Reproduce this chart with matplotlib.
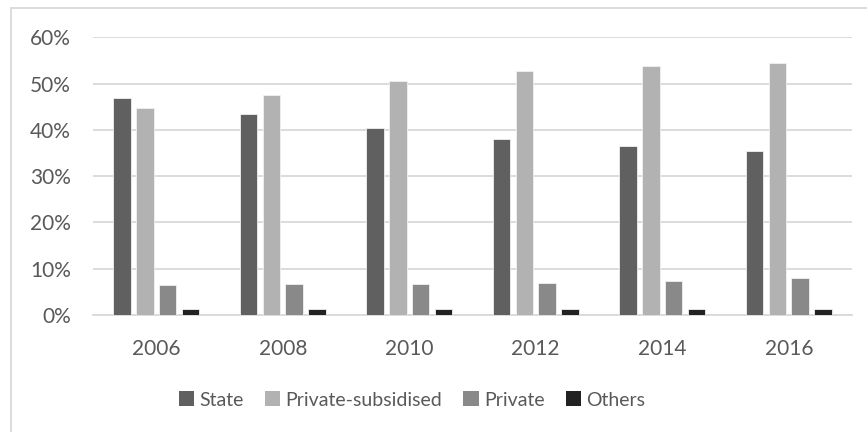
import numpy as np
import matplotlib
matplotlib.use('Agg')
import matplotlib.pyplot as plt
from matplotlib.patches import Rectangle, Patch
from matplotlib.ticker import PercentFormatter

plt.rcParams['font.family'] = ['Lato', 'DejaVu Sans']

years = ['2006', '2008', '2010', '2012', '2014', '2016']
series = ['State', 'Private-subsidised', 'Private', 'Others']
state = [46.8, 43.4, 40.4, 38.0, 36.6, 35.5]
priv_sub = [44.7, 47.5, 50.5, 52.8, 53.9, 54.4]
private = [6.5, 6.7, 6.8, 6.9, 7.3, 8.0]
others = [1.4, 1.3, 1.3, 1.3, 1.2, 1.2]
colors = ['#606060', '#b2b2b2', '#898989', '#222222']

txt = '#595959'
grid = '#d9d9d9'

fig = plt.figure(figsize=(8.67, 4.32), dpi=100)
ax = fig.add_axes([93/867, 1-315/432, (852-93)/867, (315-37.4)/432])

x = np.arange(len(years))
slot = 0.18
w = 0.14
for i, (vals, c) in enumerate(zip([state, priv_sub, private, others], colors)):
    ax.bar(x + (i - 1.5)*slot, vals, width=w, color=c, edgecolor='#f0f0f0',
           linewidth=0.6, zorder=3)

ax.set_xlim(-0.5, len(years)-0.5)
ax.set_ylim(0, 60)
ax.set_yticks(range(0, 61, 10))
ax.yaxis.set_major_formatter(PercentFormatter(decimals=0))
ax.set_xticks(x)
ax.set_xticklabels(years)
ax.tick_params(length=0, labelsize=15, colors=txt)
ax.tick_params(axis='y', pad=16)
ax.tick_params(axis='x', pad=17)
ax.grid(axis='y', color=grid, linewidth=1.3, zorder=0)
for s in ['top', 'right', 'left']:
    ax.spines[s].set_visible(False)
ax.spines['bottom'].set_color(grid)
ax.spines['bottom'].set_linewidth(1.3)

# outer chart border (left and top visible)
fig.patches.append(Rectangle((11/867, -0.1), 1.2, 1-8/432+0.1, transform=fig.transFigure,
                             fill=False, edgecolor=grid, linewidth=1.3))

handles = [Patch(facecolor=c, edgecolor='none') for c in colors]
fig.legend(handles, series, loc='center', bbox_to_anchor=(412/867, 1-400/432), ncol=4,
           frameon=False, fontsize=14, labelcolor=txt, handlelength=0.8, handleheight=0.8,
           handletextpad=0.25, columnspacing=1.1, borderpad=0)

fig.savefig('out.png', dpi=100)
